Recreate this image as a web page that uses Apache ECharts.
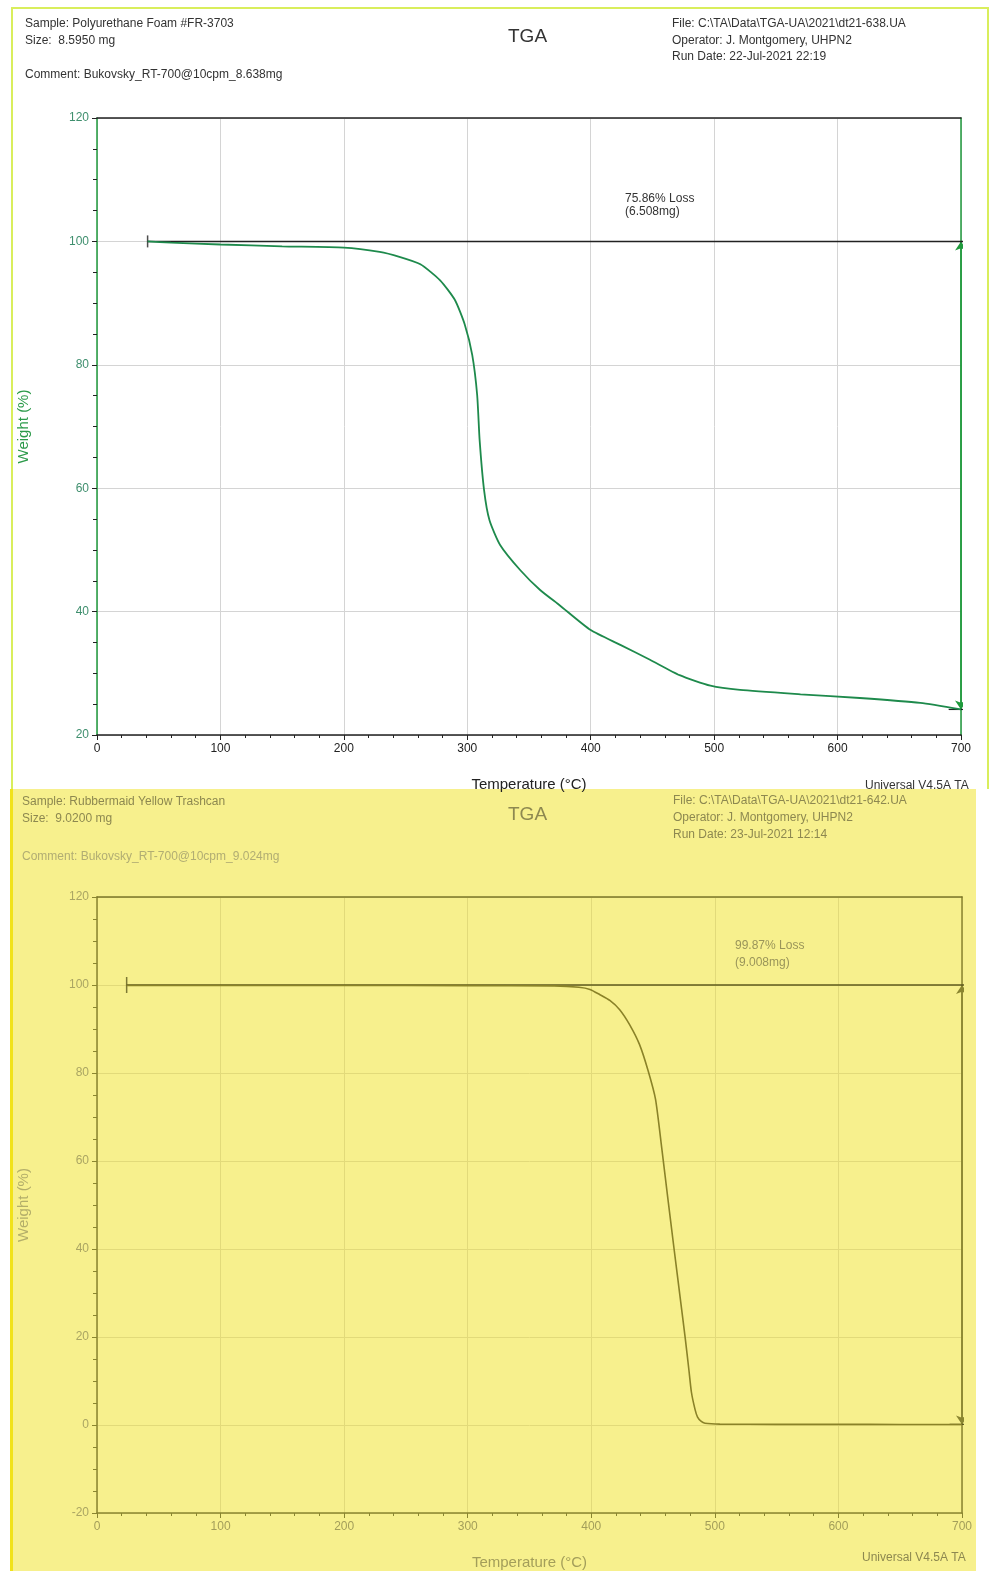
<!DOCTYPE html>
<html style="height: 100%">
  <head>
    <meta charset="UTF-8" />
    <title>TGA</title>
    <script src="https://cdn.jsdelivr.net/npm/echarts@6/dist/echarts.min.js"></script>
  </head>
  <body style="height: 100%; margin: 0">
    <div id="main" style="width: 990px; height: 1571px"></div>
    <script>
      // foam curve (top)
      var tempA = [41, 60, 100, 150, 200, 229, 245, 262, 278, 290, 298, 304, 308, 310, 313.6, 318, 326.6, 343, 359, 375, 400, 424, 448, 472, 497, 521, 570, 618, 667, 700];
      var weightA = [100, 99.8, 99.5, 99.2, 99.0, 98.3, 97.5, 96.3, 93.7, 90.5, 86.5, 81.6, 75.1, 67.8, 59.7, 54.8, 50.8, 46.7, 43.5, 41, 37, 34.6, 32.2, 29.7, 28.0, 27.3, 26.6, 26.0, 25.2, 24.14];
      // trashcan curve (bottom)
      var tempB = [24, 100, 200, 300, 370, 390, 399, 407, 415, 423, 431, 439, 446, 452, 457, 462, 467, 472, 476, 479, 481, 484, 486, 489, 492, 504, 550, 600, 650, 700];
      var weightB = [99.9, 99.9, 99.9, 99.85, 99.8, 99.5, 99.0, 97.8, 96.5, 94.4, 91, 86.5, 80.5, 74, 63, 51.4, 40, 28.8, 19.8, 12.5, 7.5, 3.5, 1.8, 0.8, 0.4, 0.2, 0.15, 0.14, 0.13, 0.13];
      var lossA = { start: 41, pct: '75.86% Loss', mg: '(6.508mg)', end: 24.14 };
      var lossB = { start: 24, pct: '99.87% Loss', mg: '(9.008mg)', end: 0.13 };

      function pairs(xs, ys) {
        return xs.map(function (x, i) { return [x, ys[i]]; });
      }

      var chart = echarts.init(document.getElementById('main'));
      var font = '"Liberation Sans", Arial, sans-serif';

      function txt(x, y, s, size, color, z) {
        return {
          type: 'text', x: x, y: y, z: z == null ? 50 : z,
          style: { text: s, fill: color, font: size + 'px ' + font, textAlign: 'left', textVerticalAlign: 'middle' }
        };
      }

      function xAxisCfg(grid, c) {
        return {
          type: 'value', gridIndex: grid, min: 0, max: 700, interval: 100,
          name: 'Temperature (°C)', nameLocation: 'middle', nameGap: 42,
          nameTextStyle: { fontFamily: font, fontSize: 15, color: c.name },
          axisLine: { onZero: false, lineStyle: { color: c.axis, width: 1.5 } },
          axisTick: { length: 5, lineStyle: { color: c.axis } },
          minorTick: { show: true, splitNumber: 5, length: 3, lineStyle: { color: c.axis } },
          axisLabel: { fontFamily: font, fontSize: 12, color: c.label, margin: 8 },
          splitLine: { lineStyle: { color: c.grid } }
        };
      }
      function xTopCfg(grid, c) {
        return {
          type: 'value', gridIndex: grid, min: 0, max: 700, position: 'top',
          axisLine: { onZero: false, lineStyle: { color: c.top, width: 1.5 } },
          axisTick: { show: false }, axisLabel: { show: false }, splitLine: { show: false }
        };
      }
      function yAxisCfg(grid, min, c) {
        return {
          type: 'value', gridIndex: grid, min: min, max: 120, interval: 20,
          name: 'Weight (%)', nameLocation: 'middle', nameGap: 66,
          nameTextStyle: { fontFamily: font, fontSize: 15, color: c.yname },
          axisLine: { show: true, onZero: false, lineStyle: { color: c.yaxis, width: 1.5 } },
          axisTick: { show: true, length: 5, lineStyle: { color: c.axis } },
          minorTick: { show: true, splitNumber: 4, length: 4, lineStyle: { color: c.axis } },
          axisLabel: { fontFamily: font, fontSize: 12, color: c.ylabel, margin: 8 },
          splitLine: { lineStyle: { color: c.grid } }
        };
      }
      function yRightCfg(grid, min, c) {
        return {
          type: 'value', gridIndex: grid, min: min, max: 120, position: 'right',
          axisLine: { show: true, onZero: false, lineStyle: { color: c.yaxis, width: 1.5 } },
          axisTick: { show: false }, axisLabel: { show: false }, splitLine: { show: false }
        };
      }

      var cA = { axis: '#222', top: '#222', label: '#222', name: '#222', grid: '#d4d4d4', yaxis: '#1f9a3c', ylabel: '#3f8f6e', yname: '#2c9a4a', curve: '#1e8a4c', ref: '#222' };
      var cB = { axis: '#8a8530', top: '#7b7628', label: '#a39e5a', name: '#a39e5a', grid: '#e2da7a', yaxis: '#8a8530', ylabel: '#aaa563', yname: '#b3ae6a', curve: '#8a8228', ref: '#5e5a1e' };

      function refSeries(xi, yi, loss, c, tickH) {
        return [
          {
            type: 'line', xAxisIndex: xi, yAxisIndex: yi, clip: false, symbol: 'none', silent: true,
            lineStyle: { color: c.ref, width: 1.5 }, data: [[loss.start, 100], [711, 100]]
          },
          {
            type: 'line', xAxisIndex: xi, yAxisIndex: yi, clip: false, symbol: 'none', silent: true,
            lineStyle: { color: c.ref, width: 1.2 }, data: [[690, loss.end], [711, loss.end]]
          },
          {
            type: 'scatter', xAxisIndex: xi, yAxisIndex: yi, silent: true, symbol: 'rect', symbolSize: [1.5, tickH],
            itemStyle: { color: c.ref }, data: [[loss.start, 100]]
          },
          {
            type: 'lines', coordinateSystem: 'cartesian2d', xAxisIndex: xi, yAxisIndex: yi, silent: true,
            symbol: ['arrow', 'arrow'], symbolSize: 9,
            lineStyle: { color: c.yaxis, width: 1.5, opacity: 1 },
            data: [{ coords: [[700, 100], [700, loss.end]] }]
          }
        ];
      }

      var series = [
        {
          type: 'line', xAxisIndex: 0, yAxisIndex: 0, symbol: 'none', smooth: 0.2,
          lineStyle: { color: cA.curve, width: 1.8 }, data: pairs(tempA, weightA), z: 5
        },
        {
          type: 'line', xAxisIndex: 2, yAxisIndex: 2, symbol: 'none', smooth: 0.2,
          lineStyle: { color: cB.curve, width: 1.6 }, data: pairs(tempB, weightB), z: 5
        }
      ].concat(refSeries(0, 0, lossA, cA, 12)).concat(refSeries(2, 2, lossB, cB, 16));

      var hdrA = '#333', hdrB = '#8d8850';
      var graphic = [
        { type: 'rect', z: -10, shape: { x: 0, y: 0, width: 990, height: 790 }, style: { fill: '#fff' } },
        { type: 'rect', z: -10, shape: { x: 12, y: 8, width: 976, height: 790 }, style: { fill: 'none', stroke: '#d9ee5c', lineWidth: 2 } },
        txt(865, 786, 'Universal V4.5A TA', 12, '#333', -9),
        { type: 'rect', z: -8, shape: { x: 0, y: 789, width: 990, height: 782 }, style: { fill: '#fff' } },
        { type: 'rect', z: -8, shape: { x: 10, y: 789, width: 966, height: 782 }, style: { fill: '#f7f08d' } },
        { type: 'rect', z: -8, shape: { x: 10, y: 789, width: 3, height: 782 }, style: { fill: '#f1e21a' } },

        txt(25, 24, 'Sample: Polyurethane Foam #FR-3703', 12, hdrA),
        txt(25, 41, 'Size:  8.5950 mg', 12, hdrA),
        txt(25, 75, 'Comment: Bukovsky_RT-700@10cpm_8.638mg', 12, hdrA),
        txt(508, 37, 'TGA', 19, '#333'),
        txt(672, 24, 'File: C:\\TA\\Data\\TGA-UA\\2021\\dt21-638.UA', 12, hdrA),
        txt(672, 41, 'Operator: J. Montgomery, UHPN2', 12, hdrA),
        txt(672, 57, 'Run Date: 22-Jul-2021 22:19', 12, hdrA),
        txt(625, 199, lossA.pct, 12, '#333'),
        txt(625, 212, lossA.mg, 12, '#333'),

        txt(22, 802, 'Sample: Rubbermaid Yellow Trashcan', 12, hdrB),
        txt(22, 819, 'Size:  9.0200 mg', 12, hdrB),
        txt(22, 857, 'Comment: Bukovsky_RT-700@10cpm_9.024mg', 12, '#b1ad73'),
        txt(508, 815, 'TGA', 19, '#8d8850'),
        txt(673, 801, 'File: C:\\TA\\Data\\TGA-UA\\2021\\dt21-642.UA', 12, hdrB),
        txt(673, 818, 'Operator: J. Montgomery, UHPN2', 12, hdrB),
        txt(673, 835, 'Run Date: 23-Jul-2021 12:14', 12, hdrB),
        txt(735, 946, lossB.pct, 12, '#9a955a'),
        txt(735, 963, lossB.mg, 12, '#9a955a'),
        txt(862, 1558, 'Universal V4.5A TA', 12, hdrB)
      ];

      var option = {
        animation: false,
        backgroundColor: 'transparent',
        grid: [
          { left: 97, top: 118, width: 864, height: 617 },
          { left: 97, top: 897, width: 865, height: 619 }
        ],
        xAxis: [xAxisCfg(0, cA), xTopCfg(0, cA), xAxisCfg(1, cB), xTopCfg(1, cB)],
        yAxis: [yAxisCfg(0, 20, cA), yRightCfg(0, 20, cA), yAxisCfg(1, -20, cB), yRightCfg(1, -20, cB)],
        graphic: graphic,
        series: series
      };
      chart.setOption(option);
    </script>
  </body>
</html>
